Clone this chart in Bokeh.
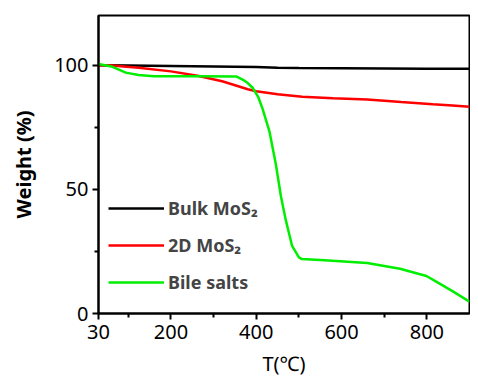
from bokeh.plotting import figure
from bokeh.models import FixedTicker, Legend, LegendItem, Range1d
from bokeh.embed import file_html
from bokeh.resources import INLINE

# Temperature (°C) and weight (%)
bulk_T = [30, 100, 200, 300, 400, 450, 500, 600, 700, 800, 900]
bulk_W = [100, 99.9, 99.7, 99.5, 99.3, 99.0, 98.9, 98.8, 98.7, 98.6, 98.6]

d2_T = [30, 55, 124, 200, 262, 320, 354, 380, 400, 450, 508, 580, 660, 740, 814, 860, 900]
d2_W = [100, 100, 99.0, 97.5, 95.7, 93.5, 91.7, 90.3, 89.5, 88.3, 87.3, 86.7, 86.2, 85.2, 84.3, 83.8, 83.3]

bile_T = [30, 60, 94, 124, 160, 262, 354, 369, 380, 392, 405, 415, 431, 446, 458, 469, 484, 500, 507,
          560, 660, 737, 799, 829, 860, 900]
bile_W = [100.5, 99.5, 97, 96, 95.5, 95.5, 95.4, 94.1, 92.8, 90.8, 87, 82.3, 73.2, 60, 47, 37.8, 27.2, 22.6, 21.9,
          21.4, 20.3, 18, 15.1, 12.1, 9, 4.8]

x_ticks = [30, 200, 400, 600, 800]
x_minor = [100, 300, 500, 700]
y_ticks = [0, 50, 100]
y_minor = [25, 75]

FONT = "Noto Sans"

p = figure(width=470, height=379, output_backend="svg", toolbar_location=None,
           x_range=Range1d(30, 900), y_range=Range1d(0, 120),
           min_border_left=98, min_border_right=1, min_border_top=15, min_border_bottom=63)

p.grid.visible = False
p.outline_line_color = "black"
p.outline_line_width = 2
p.background_fill_color = "white"
p.border_fill_color = "white"

r_bulk = p.line(bulk_T, bulk_W, line_color="black", line_width=2.5)
r_2d = p.line(d2_T, d2_W, line_color="#ff0000", line_width=2.5)
r_bile = p.line(bile_T, bile_W, line_color="#00ee00", line_width=2.5)

for ax in (p.xaxis[0], p.yaxis[0]):
    ax.axis_line_width = 2
    ax.major_tick_line_width = 2
    ax.minor_tick_line_width = 2
    ax.major_tick_out = 6
    ax.major_tick_in = 0
    ax.minor_tick_out = 4
    ax.minor_tick_in = 0
    ax.major_label_text_font = FONT
    ax.major_label_text_font_size = "20px"
    ax.major_label_text_color = "black"
    ax.axis_label_text_font = FONT
    ax.axis_label_text_font_size = "20px"
    ax.axis_label_text_color = "black"

p.xaxis[0].ticker = FixedTicker(ticks=x_ticks, minor_ticks=x_minor)
p.yaxis[0].ticker = FixedTicker(ticks=y_ticks, minor_ticks=y_minor)
p.xaxis[0].axis_label = "T(℃)"
p.xaxis[0].axis_label_text_font_style = "normal"
p.xaxis[0].axis_label_standoff = 8
p.xaxis[0].major_label_standoff = 5
p.yaxis[0].axis_label = "Weight (%)"
p.yaxis[0].axis_label_text_font_style = "bold"
p.yaxis[0].axis_label_standoff = 14
p.yaxis[0].major_label_standoff = 4

legend = Legend(items=[
    LegendItem(label="Bulk MoS₂", renderers=[r_bulk]),
    LegendItem(label="2D MoS₂", renderers=[r_2d]),
    LegendItem(label="Bile salts", renderers=[r_bile]),
], location=(10, 19), padding=0, margin=0, spacing=13,
    glyph_width=56, glyph_height=20, label_height=20, label_standoff=4,
    label_text_font=FONT, label_text_font_size="18px", label_text_font_style="bold",
    background_fill_alpha=0, border_line_alpha=0)
p.add_layout(legend, "center")

open("out.html", "w").write(file_html(p, INLINE))
